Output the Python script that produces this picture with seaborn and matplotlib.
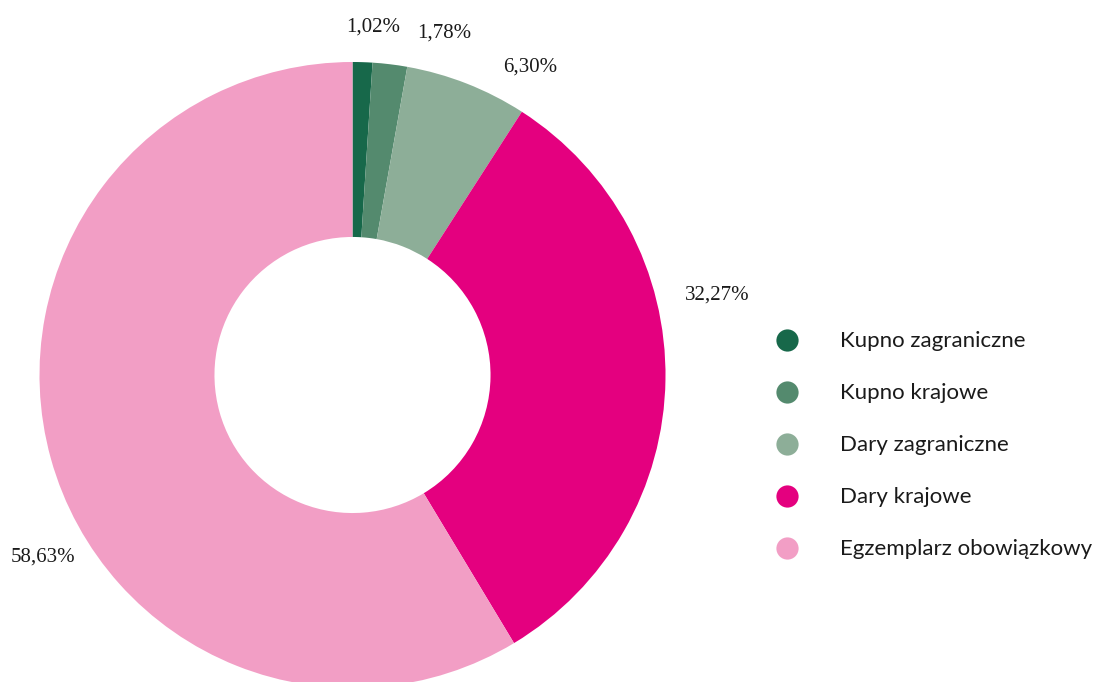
import numpy as np
import matplotlib
matplotlib.use("Agg")
import matplotlib.pyplot as plt
import seaborn as sns
from matplotlib.lines import Line2D

# data
categories = ["Kupno zagraniczne", "Kupno krajowe", "Dary zagraniczne",
              "Dary krajowe", "Egzemplarz obowiązkowy"]
shares = [1.02, 1.78, 6.30, 32.27, 58.63]
labels = ["1,02%", "1,78%", "6,30%", "32,27%", "58,63%"]
colors = ["#17684A", "#548A6E", "#8DAE98", "#E4007F", "#F29EC5"]

# label placement tweaks (angle nudge in degrees, radius)
label_nudge = [-1.5, -8.1, -8.6, 13.2, 15.0]
label_rad = [1.114, 1.131, 1.136, 1.192, 1.147]

sns.set_theme(style="white")

W, H = 1108, 682
fig = plt.figure(figsize=(W / 100, H / 100), dpi=100)
ax = fig.add_axes([0, 0, 1, 1])

cx, cy, R = 352.5, 375, 313
wedges, _ = ax.pie(shares, colors=colors, startangle=90, counterclock=False,
                   radius=1, wedgeprops=dict(width=0.559, linewidth=0))

for w, lab, dn, rr in zip(wedges, labels, label_nudge, label_rad):
    mid = np.deg2rad((w.theta1 + w.theta2) / 2 + dn)
    ax.text(rr * np.cos(mid), rr * np.sin(mid), lab, ha="center", va="center",
            fontsize=15, family="Liberation Serif", color="#1a1a1a")

ax.set_aspect("auto")
ax.set_xlim(-cx / R, (W - cx) / R)
ax.set_ylim(-(H - cy) / R, cy / R)
ax.axis("off")

handles = [Line2D([0], [0], marker="o", linestyle="", markersize=16,
                  markerfacecolor=c, markeredgewidth=0) for c in colors]
leg = fig.legend(handles, categories, loc="upper left",
                 bbox_to_anchor=(756 / W, 1 - 322.6 / H), frameon=False,
                 handletextpad=1.38, labelspacing=1.44, borderaxespad=0,
                 prop=dict(family="Lato", size=16))
for t in leg.get_texts():
    t.set_color("#1a1a1a")

fig.savefig("out.png", dpi=100, facecolor="white")
